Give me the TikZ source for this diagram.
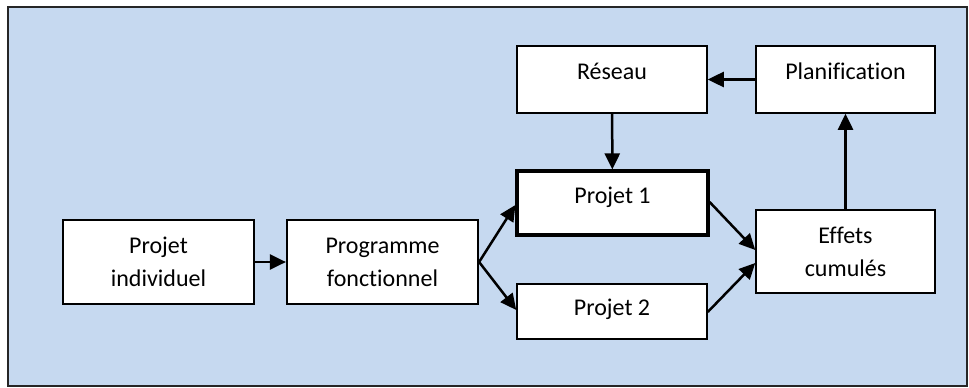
\documentclass[tikz,border=0pt]{standalone}
\usepackage{fontspec}
\setmainfont{Carlito}[RawFeature=-liga]
\usetikzlibrary{arrows.meta}
\definecolor{fond}{HTML}{C6D9F0}

\begin{document}
\begin{tikzpicture}[x=1pt, y=-1pt,
	bloc/.style={draw, fill=white, align=center, line width=2.2pt, minimum width=191pt, minimum height=84pt, inner sep=0pt},
	haut/.style={draw, fill=white, align=center, line width=1.5pt, inner xsep=0pt, inner ysep=0pt},
	fleche/.style={line width=2.5pt, -{Triangle[length=16pt, width=15pt]}}]
	\useasboundingbox (0,0) rectangle (969,388);
	\fill [fond, draw=black!85, line width=2.4pt] (8,7) rectangle (967,386);
	\fontsize{24}{33}\selectfont
	\node [bloc] (indiv) at (158.5,262) {Projet \\ individuel};
	\node [bloc] (prog) at (382.5,262) {Programme \\ fonctionnel};
	\node [haut, minimum width=190pt, text height=33pt, text depth=34pt] (reseau) at (612,79.5) {Réseau};
	\node [haut, minimum width=179pt, text height=33pt, text depth=34pt] (planif) at (845.5,79.5) {Planification};
	\node [haut, line width=3.2pt, minimum width=191pt, text height=32pt, text depth=32pt] (p1) at (612.5,203) {Projet 1};
	\node [haut, minimum width=190pt, text height=31pt, text depth=24pt] (p2) at (612,311.5) {Projet 2};
	\node [haut, minimum width=179pt, minimum height=83pt] (effets) at (845.5,251.5) {Effets \\ cumulés};
	\draw [fleche] (indiv) -- (prog);
	\draw [fleche] (prog.east) -- ([yshift=-2pt]p1.west);
	\draw [fleche] (prog.east) -- ([yshift=1.5pt]p2.west);
	\draw [fleche] ([yshift=1pt]p1.east) -- ([yshift=1.5pt]effets.west);
	\draw [fleche] ([yshift=-0.5pt]p2.east) -- ([yshift=-11.5pt]effets.west);
	\draw [fleche] (effets) -- (planif);
	\draw [fleche] (planif) -- (reseau);
	\draw [fleche] (reseau) -- (p1);
\end{tikzpicture}
\end{document}
